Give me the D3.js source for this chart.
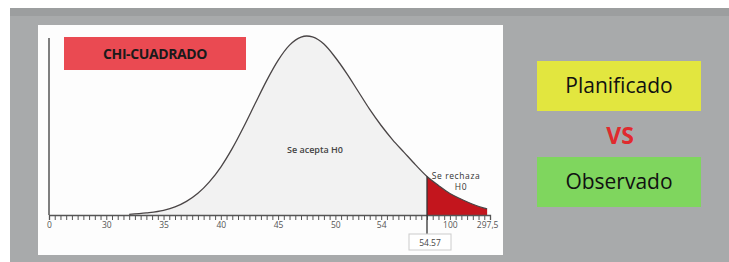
<!DOCTYPE html>
<html>
<head>
<meta charset="utf-8">
<script src="https://cdn.jsdelivr.net/npm/d3@7"></script>
<style>
  body { margin: 0; background: #fff; }
  svg { display: block; font-family: "Open Sans", sans-serif; }
</style>
</head>
<body>
<svg id="chart"></svg>
<script>
// axis positions are in minor-tick steps; labels are the printed values
const tickLabels = ['0', '30', '35', '40', '45', '50', '54', '100', '297,5'];
const tickPos = [0, 10, 20, 30, 40, 50, 58, 70, 76.5];
const criticalPos = 66;
const criticalLabel = '54.57';

// curve: position (tick steps) and relative height
const curveX = [14, 17, 20, 22, 24, 26, 28, 30, 32, 34, 36, 38, 40, 42, 44, 45,
  46, 48, 50, 52, 54, 56, 58, 60, 62, 64, 66, 68, 70, 72, 74, 76, 76.5];
const curveY = [0.004, 0.012, 0.026, 0.045, 0.076, 0.121, 0.185, 0.268, 0.372, 0.493,
  0.623, 0.751, 0.864, 0.949, 0.994, 1.0,
  0.995, 0.955, 0.88, 0.79, 0.69, 0.59, 0.5, 0.42, 0.35, 0.28, 0.215, 0.165, 0.12,
  0.088, 0.06, 0.038, 0.034];

const sideLabels = ['Planificado', 'Observado'];
const sideColors = ['#e2e63f', '#7fd65e'];

const width = 729, height = 262;
const svg = d3.select('#chart').attr('width', width).attr('height', height);

// grey backdrop and white chart card
svg.append('rect').attr('x', 10).attr('y', 8).attr('width', width - 10).attr('height', height - 8)
  .attr('fill', '#a8aaab');
svg.append('rect').attr('x', 10).attr('y', 8).attr('width', width - 10).attr('height', 8)
  .attr('fill', '#9c9e9f');
svg.append('rect').attr('x', 38).attr('y', 25).attr('width', 465).attr('height', 230)
  .attr('fill', '#fdfdfd');

const x = d3.scaleLinear().domain([0, 77]).range([49, 490]);
const y = d3.scaleLinear().domain([0, 1]).range([215, 36]);

const pts = curveX.map((v, i) => [v, curveY[i]]);

// accept region
const area = d3.area().x(d => x(d[0])).y0(y(0)).y1(d => y(d[1])).curve(d3.curveMonotoneX);
svg.append('path').datum(pts.filter(d => d[0] <= criticalPos))
  .attr('d', area).attr('fill', '#f2f2f2');

// reject region
svg.append('path').datum(pts.filter(d => d[0] >= criticalPos))
  .attr('d', area).attr('fill', '#c3151d');

svg.append('path').datum(pts)
  .attr('d', d3.line().x(d => x(d[0])).y(d => y(d[1])).curve(d3.curveMonotoneX))
  .attr('fill', 'none').attr('stroke', '#4a4546').attr('stroke-width', 1.3);

// y axis line
svg.append('line').attr('x1', x(0)).attr('x2', x(0)).attr('y1', 38).attr('y2', y(0))
  .attr('stroke', '#555').attr('stroke-width', 1.5);

// minor ticks
const minor = svg.append('g').attr('transform', `translate(0,${y(0)})`)
  .call(d3.axisBottom(x).tickValues(d3.range(0, 77)).tickSize(5).tickFormat(''));
minor.select('.domain').attr('stroke', '#555').attr('stroke-width', 1.3);
minor.selectAll('.tick line').attr('stroke', '#555');

// labels
const major = svg.append('g').attr('transform', `translate(0,${y(0)})`)
  .call(d3.axisBottom(x).tickValues(tickPos).tickSize(0)
    .tickFormat((d, i) => tickLabels[i]));
major.select('.domain').remove();
major.selectAll('text').attr('dy', 0).attr('y', 13)
  .attr('font-family', '"Open Sans", sans-serif').attr('font-size', 8.5).attr('fill', '#555');

// critical value marker
svg.append('line').attr('x1', x(criticalPos)).attr('x2', x(criticalPos))
  .attr('y1', y(0.215)).attr('y2', 237).attr('stroke', '#333').attr('stroke-width', 1.3);
svg.append('rect').attr('x', x(criticalPos) - 18).attr('y', 234).attr('width', 42).attr('height', 16)
  .attr('fill', '#fff').attr('stroke', '#ccc');
svg.append('text').attr('x', x(criticalPos) + 3).attr('y', 245.5).attr('text-anchor', 'middle')
  .attr('font-size', 8.5).attr('fill', '#444').text(criticalLabel);

// region labels
svg.append('text').attr('x', 315).attr('y', 153).attr('text-anchor', 'middle')
  .attr('font-size', 9).attr('font-weight', 600).attr('fill', '#444').text('Se acepta H0');
svg.append('text').attr('x', 456).attr('y', 179).attr('text-anchor', 'middle')
  .attr('font-size', 8.5).attr('letter-spacing', 0.6).attr('fill', '#333').text('Se rechaza');
svg.append('text').attr('x', 461).attr('y', 190).attr('text-anchor', 'middle')
  .attr('font-size', 8.5).attr('letter-spacing', 0.6).attr('fill', '#333').text('H0');

// title tag
svg.append('rect').attr('x', 64).attr('y', 37).attr('width', 182).attr('height', 33)
  .attr('fill', '#ea4a52');
svg.append('text').attr('x', 155).attr('y', 59).attr('text-anchor', 'middle')
  .attr('font-size', 14).attr('font-weight', 700).attr('fill', '#1a1a1a')
  .attr('letter-spacing', -0.4).text('CHI-CUADRADO');

// planned vs observed
const boxY = [61, 157];
sideLabels.forEach((lab, i) => {
  svg.append('rect').attr('x', 537).attr('y', boxY[i]).attr('width', 164).attr('height', 50)
    .attr('fill', sideColors[i]);
  svg.append('text').attr('x', 619).attr('y', boxY[i] + 32).attr('text-anchor', 'middle')
    .attr('font-size', 21).attr('fill', '#111').text(lab);
});
svg.append('text').attr('x', 620).attr('y', 144).attr('text-anchor', 'middle')
  .attr('font-size', 23).attr('font-weight', 700).attr('fill', '#e02a2e').text('VS');
</script>
</body>
</html>
